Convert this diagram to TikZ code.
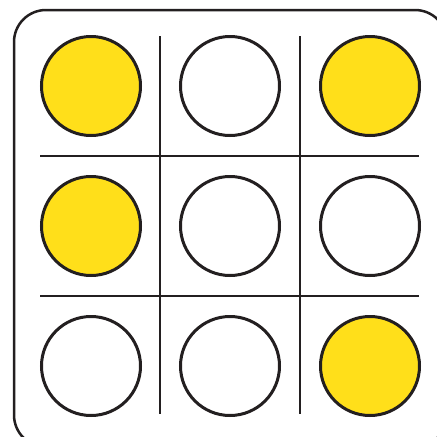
\documentclass[tikz,border=0pt]{standalone}
\usepackage{tikz}
\usetikzlibrary{positioning}
\usepackage{xcolor}

\definecolor{discyellow}{HTML}{FFDF1A}
\definecolor{inkdark}{HTML}{231F20}

\begin{document}
\begin{tikzpicture}[
    x=1pt, y=-1pt,
    disc/.style={circle, draw=inkdark, line width=3pt, minimum size=99pt, inner sep=0pt},
    gridline/.style={draw=inkdark, line width=2.5pt}
]
    % Canvas
    \useasboundingbox (0,0) rectangle (437,437);
    \clip (0,0) rectangle (437,437);

    % Outer frame
    \draw[inkdark, line width=2.5pt, rounded corners=32pt] (14,10) rectangle (447,447);

    % Grid lines
    \foreach \x in {160,300} {
        \draw[gridline] (\x,36) -- (\x,414);
    }
    \foreach \y in {156,296} {
        \draw[gridline] (40,\y) -- (419,\y);
    }

    % Discs (row r, column c, filling)
    \foreach \r/\c/\x/\y/\col in {1/1/91/86/discyellow, 1/2/230/86/white, 1/3/370/86/discyellow,
                                  2/1/91/226/discyellow, 2/2/230/226/white, 2/3/370/226/white,
                                  3/1/91/366/white, 3/2/230/366/white, 3/3/370/366/discyellow} {
        \node[disc, fill=\col] (d\r\c) at (\x,\y) {};
    }
\end{tikzpicture}
\end{document}
